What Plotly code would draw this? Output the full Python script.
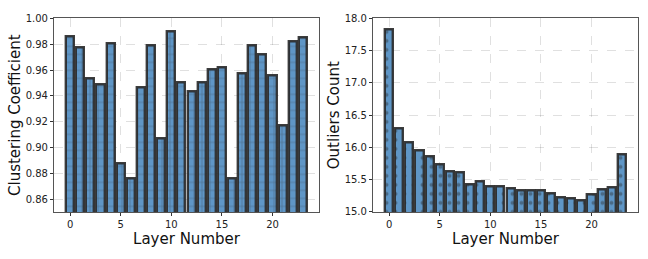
import plotly.graph_objects as go

layers = list(range(24))
clustering = [0.9864, 0.9775, 0.9536, 0.9491, 0.9807, 0.8874, 0.8758, 0.9469,
              0.9793, 0.9067, 0.9899, 0.9506, 0.9432, 0.9506, 0.9605, 0.9620,
              0.8763, 0.9573, 0.9793, 0.9721, 0.9558, 0.9168, 0.9820, 0.9854]
outliers = [17.827, 16.29, 16.072, 15.953, 15.86, 15.73, 15.627, 15.607,
            15.434, 15.479, 15.40, 15.40, 15.365, 15.33, 15.33, 15.34,
            15.286, 15.227, 15.212, 15.177, 15.276, 15.345, 15.38, 15.889]

fill = "#5f96c6"
edge = "rgba(40,40,40,0.9)"
font = "DejaVu Sans"

fig = go.Figure()
fig.add_trace(go.Bar(x=layers, y=clustering, width=0.8, base=0,
                     marker=dict(color=fill, line=dict(color=edge, width=2.4),
                                 pattern=dict(shape="+", fgcolor="rgba(40,40,40,0.75)",
                                              bgcolor=fill, size=8, solidity=0.15)),
                     xaxis="x", yaxis="y", showlegend=False))
fig.add_trace(go.Bar(x=layers, y=outliers, width=0.8, base=0,
                     marker=dict(color=fill, line=dict(color=edge, width=2.4),
                                 pattern=dict(shape=".", fgcolor="rgba(40,40,40,0.8)",
                                              bgcolor=fill, size=9, solidity=0.15)),
                     xaxis="x2", yaxis="y2", showlegend=False))

grid = dict(showgrid=True, gridcolor="rgba(0,0,0,0.12)", griddash="dash", gridwidth=1,
            showline=True, linecolor="#555", linewidth=1.2, mirror=True,
            ticks="outside", ticklen=3, tickcolor="#333",
            tickfont=dict(family=font, size=10, color="#222"), zeroline=False)

fig.update_layout(
    width=648, height=259, margin=dict(l=0, r=0, t=0, b=0),
    paper_bgcolor="white", plot_bgcolor="white", bargap=0,
    font=dict(family=font),
    xaxis=dict(domain=[54/648, 319/648], range=[-1.59, 24.59], tickvals=[0, 5, 10, 15, 20],
               title=dict(text="Layer Number", font=dict(size=15, color="#111"), standoff=4),
               anchor="y", **grid),
    yaxis=dict(domain=[43/259, 246/259], range=[0.85, 1.0], tickvals=[0.86, 0.88, 0.90, 0.92, 0.94, 0.96, 0.98, 1.00],
               tickformat=".2f",
               title=dict(text="Clustering Coefficient", font=dict(size=15, color="#111"), standoff=1),
               anchor="x", **grid),
    xaxis2=dict(domain=[373/648, 638/648], range=[-1.59, 24.59], tickvals=[0, 5, 10, 15, 20],
                title=dict(text="Layer Number", font=dict(size=15, color="#111"), standoff=4),
                anchor="y2", **grid),
    yaxis2=dict(domain=[43/259, 246/259], range=[15.0, 18.0], tickvals=[15.0, 15.5, 16.0, 16.5, 17.0, 17.5, 18.0],
                tickformat=".1f",
                title=dict(text="Outliers Count", font=dict(size=15, color="#111"), standoff=1),
                anchor="x2", **grid),
)

fig.write_html("out.html", config={"displayModeBar": False},
               post_script="document.body.style.margin='0';document.body.style.padding='0';")
